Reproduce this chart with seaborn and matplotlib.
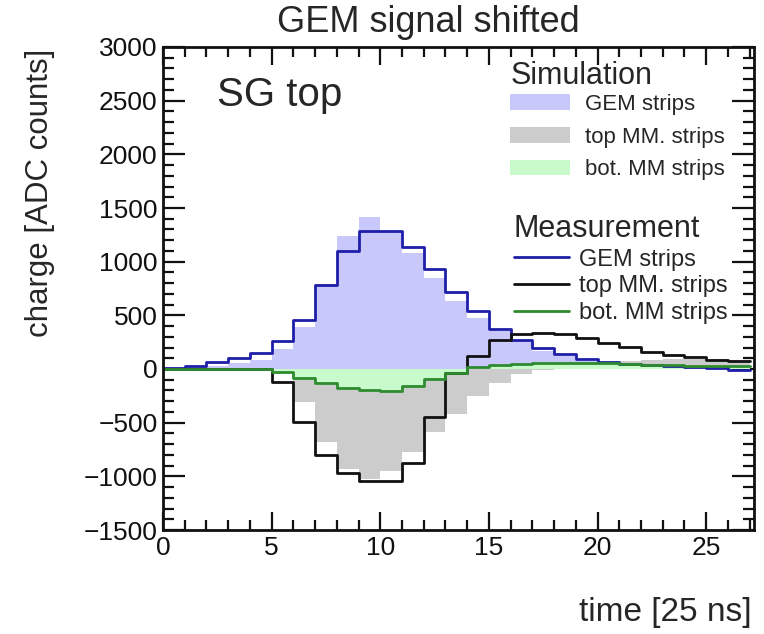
import numpy as np
import pandas as pd
import matplotlib
matplotlib.use("Agg")
import matplotlib.pyplot as plt
from matplotlib.patches import Patch
from matplotlib.lines import Line2D
from matplotlib.ticker import MultipleLocator
import seaborn as sns

# ---- data (time bins of 25 ns, charge in ADC counts) ----
bin_edges = list(range(0, 28))
bin_centers = [e + 0.5 for e in bin_edges[:-1]]

sim_gem = [5, 15, 31, 56, 84, 186, 388, 790, 1236, 1420, 1290, 1078, 848, 637,
           475, 350, 260, 171, 118, 75, 50, 35, 25, 18, 12, 8, 5]
sim_top_mm = [0, 0, 0, 0, -10, -40, -311, -683, -932, -1025, -947, -777, -590, -420,
              -254, -130, -47, -10, 20, 40, 55, 70, 85, 95, 95, 90, 85]
sim_bot_mm = [0, 0, 0, 0, -5, -30, -80, -130, -170, -195, -195, -150, -85, -40,
              15, 30, 40, 45, 45, 42, 38, 34, 30, 27, 24, 21, 18]

meas_gem = [10, 31, 62, 99, 152, 261, 458, 783, 1103, 1283, 1283, 1140, 930, 716,
            545, 370, 273, 198, 138, 92, 66, 50, 37, 25, 15, 5, -8]
meas_top_mm = [0, 0, 0, 0, 0, -124, -494, -797, -966, -1044, -1041, -876, -451, -35,
               124, 268, 325, 335, 322, 286, 242, 202, 161, 130, 108, 88, 78]
meas_bot_mm = [0, 0, 0, 0, 0, -30, -85, -135, -175, -200, -202, -155, -90, -40,
               18, 35, 50, 58, 60, 56, 52, 47, 40, 35, 30, 27, 24]

labels_sim = ["GEM strips", "top MM. strips", "bot. MM strips"]
labels_meas = ["GEM strips", "top MM. strips", "bot. MM strips"]

col_fill_gem = "#c8c8fa"
col_fill_top = "#cccccc"
col_fill_bot = "#c8facc"
col_line_gem = "#1e1ea8"
col_line_top = "#111111"
col_line_bot = "#2e8b2e"

sns.set_style("ticks")
plt.rcParams["font.family"] = ["Liberation Sans", "DejaVu Sans"]

fig = plt.figure(figsize=(7.64, 6.34), dpi=100)
ax = fig.add_axes([163 / 764, 1 - 530 / 634, (754 - 163) / 764, (530 - 47) / 634])


def hist(vals, **kw):
    df = pd.DataFrame({"time": bin_centers, "charge": [float(v) for v in vals]})
    sns.histplot(data=df, x="time", weights="charge", bins=bin_edges, element="step",
                 ax=ax, **kw)


# simulation fills
for vals, col in [(sim_top_mm, col_fill_top), (sim_gem, col_fill_gem), (sim_bot_mm, col_fill_bot)]:
    hist(vals, fill=True, color=col, alpha=1, linewidth=0)

# measurement lines
for vals, col in [(meas_gem, col_line_gem), (meas_top_mm, col_line_top), (meas_bot_mm, col_line_bot)]:
    hist(vals, fill=False, color=col, linewidth=2.0)

ax.set_xlim(0, 27.2)
ax.set_ylim(-1500, 3000)
ax.set_xlabel("")
ax.set_ylabel("")

ax.xaxis.set_major_locator(MultipleLocator(5))
ax.xaxis.set_minor_locator(MultipleLocator(1))
ax.yaxis.set_minor_locator(MultipleLocator(100))
ax.tick_params(axis="both", which="both", direction="in", top=True, right=True,
               labelsize=19, colors="#111111", width=1.6, pad=4)
ax.tick_params(axis="y", which="major", length=16)
ax.tick_params(axis="y", which="minor", length=8)
ax.tick_params(axis="x", which="major", length=13)
ax.tick_params(axis="x", which="minor", length=7)
yt = np.arange(-1500, 3001, 500)
ax.set_yticks(yt)
ax.set_yticklabels([f"{v}".replace("-", "\u2212") for v in yt])
for s in ax.spines.values():
    s.set_linewidth(2.0)
    s.set_color("#111111")

fig.text(428 / 764, 1 - 22 / 634, "GEM signal shifted", ha="center", va="center", fontsize=26)
fig.text(40 / 764, 1 - 193 / 634, "charge [ADC counts]", ha="center", va="center",
         rotation=90, fontsize=22.5)
fig.text(752 / 764, 1 - 613 / 634, "time [25 ns]", ha="right", va="center", fontsize=24)
fig.text(217 / 764, 1 - 95 / 634, "SG top", ha="left", va="center", fontsize=29)

# Simulation legend (title placed as separate text for tighter spacing)
fig.text(511 / 764, 1 - 76 / 634, "Simulation", ha="left", va="center", fontsize=22)
sim_handles = [Patch(facecolor=c, edgecolor="none") for c in (col_fill_gem, col_fill_top, col_fill_bot)]
leg1 = ax.legend(sim_handles, labels_sim, loc="upper left",
                 bbox_to_anchor=(510 / 764, 1 - 94 / 634), bbox_transform=fig.transFigure,
                 frameon=False, fontsize=16,
                 handlelength=2.7, handleheight=0.7, handletextpad=0.68, labelspacing=0.52,
                 borderaxespad=0, borderpad=0)
ax.add_artist(leg1)

meas_handles = [Line2D([], [], color=c, linewidth=2) for c in (col_line_gem, col_line_top, col_line_bot)]
leg2 = ax.legend(meas_handles, labels_meas, title="Measurement", loc="upper left",
                 bbox_to_anchor=(514 / 764, 1 - 214 / 634), bbox_transform=fig.transFigure,
                 frameon=False, fontsize=17, title_fontsize=22, alignment="left",
                 handlelength=2.35, handletextpad=0.42, labelspacing=0.2,
                 borderaxespad=0, borderpad=0)

fig.savefig("out.png", dpi=100)
